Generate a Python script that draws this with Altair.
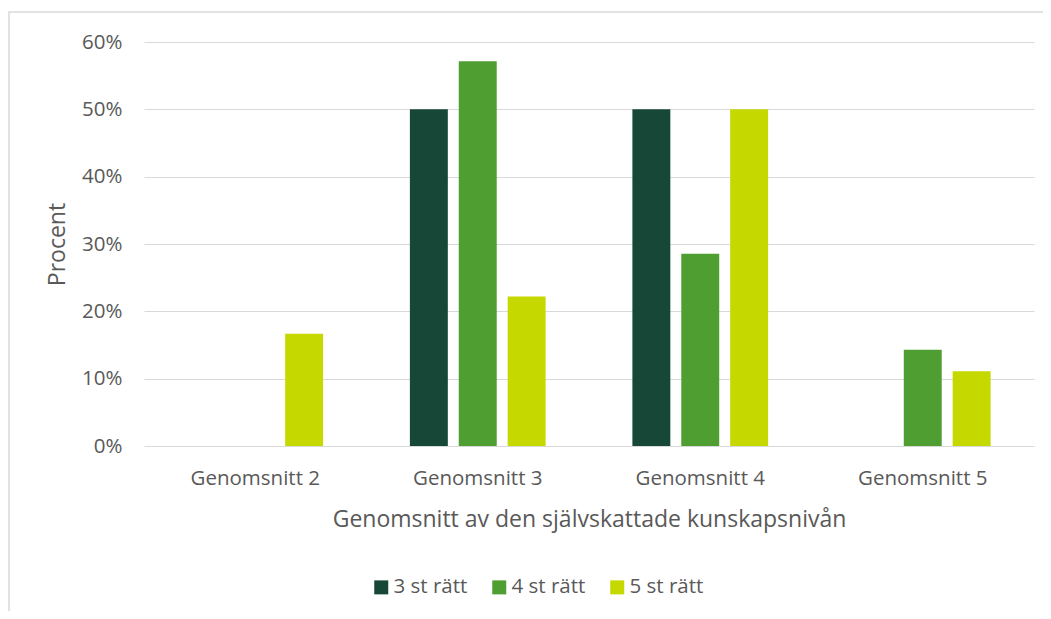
import altair as alt
import pandas as pd

categories = ["Genomsnitt 2", "Genomsnitt 3", "Genomsnitt 4", "Genomsnitt 5"]
series = ["3 st rätt", "4 st rätt", "5 st rätt"]
values = {
    "3 st rätt": [0.0, 0.50, 0.50, 0.0],
    "4 st rätt": [0.0, 0.5714, 0.2857, 0.1429],
    "5 st rätt": [0.1667, 0.2222, 0.50, 0.1111],
}
colors = ["#174837", "#4f9e31", "#c5d800"]

rows = []
for s in series:
    for c, v in zip(categories, values[s]):
        rows.append({"cat": c, "serie": s, "val": v})
df = pd.DataFrame(rows)

FONT = "Open Sans"
TXT = "#595959"

bars = alt.Chart(df).mark_bar().encode(
    x=alt.X("cat:N", sort=categories,
            scale=alt.Scale(paddingInner=0.39, paddingOuter=0.195),
            axis=alt.Axis(title="Genomsnitt av den självskattade kunskapsnivån",
                          labelAngle=0, labelFontSize=20.5, labelPadding=22,
                          titleFontSize=23, titlePadding=20, titleFontWeight="normal",
                          domain=False, ticks=False)),
    xOffset=alt.XOffset("serie:N", sort=series,
                        scale=alt.Scale(paddingInner=0.224, paddingOuter=0)),
    y=alt.Y("val:Q", scale=alt.Scale(domain=[0, 0.6]),
            axis=alt.Axis(title="Procent", format=".0%", values=[0, 0.1, 0.2, 0.3, 0.4, 0.5, 0.6],
                          labelFontSize=20.5, labelPadding=22, titleFontSize=23,
                          titlePadding=12, titleFontWeight="normal",
                          domain=False, ticks=False, gridColor="#d9d9d9")),
    color=alt.Color("serie:N", sort=series,
                    scale=alt.Scale(domain=series, range=colors),
                    legend=alt.Legend(title=None, orient="none", direction="horizontal",
                                      legendX=227, legendY=535,
                                      symbolType="square", symbolSize=196,
                                      symbolStrokeWidth=0, labelFontSize=20.5,
                                      labelOffset=2, columnPadding=21)),
)

frame = alt.Chart(pd.DataFrame({"a": [0]})).mark_rect(
    filled=False, stroke="#d9d9d9", strokeWidth=1.5
).encode(x=alt.value(-135), x2=alt.value(1000), y=alt.value(-30), y2=alt.value(700))

chart = alt.layer(frame, bars).properties(
    width=890, height=404,
    autosize=alt.AutoSizeParams(type="none"),
    padding={"left": 136, "top": 34, "right": 9, "bottom": 165},
).configure_view(stroke=None).configure_axis(
    labelFont=FONT, titleFont=FONT, labelColor=TXT, titleColor=TXT
).configure_legend(labelFont=FONT, labelColor=TXT)

chart.save("out.html", embed_options={"renderer": "svg", "actions": False})
